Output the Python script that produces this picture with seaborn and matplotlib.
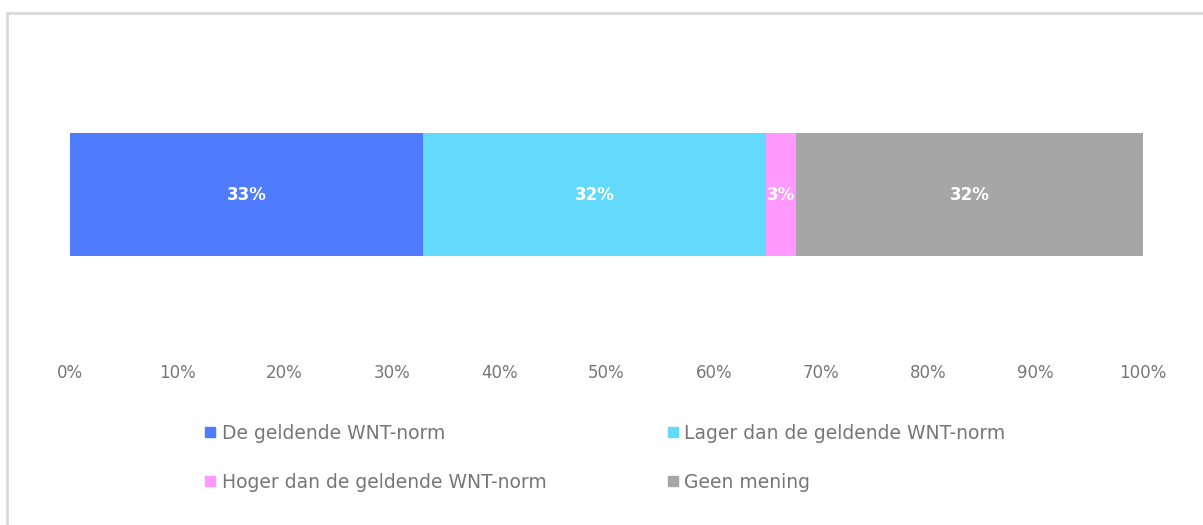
import pandas as pd
import seaborn as sns
import matplotlib.pyplot as plt
from matplotlib.patches import Rectangle
from matplotlib.lines import Line2D

# data
categories = ['De geldende WNT-norm', 'Lager dan de geldende WNT-norm',
              'Hoger dan de geldende WNT-norm', 'Geen mening']
values = [32.9, 32.0, 2.8, 32.3]
labels = ['33%', '32%', '3%', '32%']
colors = ['#4F7BFF', '#63D9FC', '#FF99FF', '#A6A6A6']
ticks = list(range(0, 101, 10))

sns.set_theme(style='white')
plt.rcParams['font.family'] = ['DejaVu Sans']

df = pd.DataFrame({'cat': categories, 'val': values})
df['cum'] = df['val'].cumsum()
df['start'] = df['cum'] - df['val']
df['row'] = ''

fig = plt.figure(figsize=(12.03, 5.25), dpi=100)
ax = fig.add_axes([70 / 1203, 1 - 350 / 525, 1073 / 1203, 310 / 525])

# stacked bar: draw cumulative totals from the largest down
for i in reversed(range(len(df))):
    sns.barplot(data=df.iloc[[i]], x='cum', y='row', color=colors[i],
                width=1.0, saturation=1, linewidth=0, ax=ax)

for i, r in df.iterrows():
    ax.text(r['start'] + r['val'] / 2, 0, labels[i], color='white',
            ha='center', va='center', fontsize=12, fontweight='bold')

ax.set_xlim(0, 100)
ax.set_ylim(1.264, -1.256)
ax.set_xticks(ticks)
ax.set_xticklabels([f'{t}%' for t in ticks], color='#767676', fontsize=12)
ax.tick_params(axis='x', length=0, pad=10)
ax.set_yticks([])
ax.set_xlabel('')
ax.set_ylabel('')
for s in ax.spines.values():
    s.set_visible(False)

# legend, column-major so rows read as in the original
order = [0, 2, 1, 3]
handles = [Line2D([], [], marker='s', linestyle='', color=colors[i],
                  markersize=7) for i in order]
fig.legend(handles, [categories[i] for i in order], ncol=2,
           loc='upper left', bbox_to_anchor=(187 / 1203, 1 - 407 / 525),
           frameon=False, fontsize=13.5, labelcolor='#767676',
           handletextpad=0.25, handlelength=0.7, columnspacing=6.4,
           labelspacing=1.6)

# chart frame
fig.patches.append(Rectangle((7 / 1203, -0.05), 1.1, 1 - 13 / 525 + 0.05,
                             transform=fig.transFigure, fill=False,
                             edgecolor='#D9D9D9', linewidth=2))

fig.savefig('out.png', dpi=100)
